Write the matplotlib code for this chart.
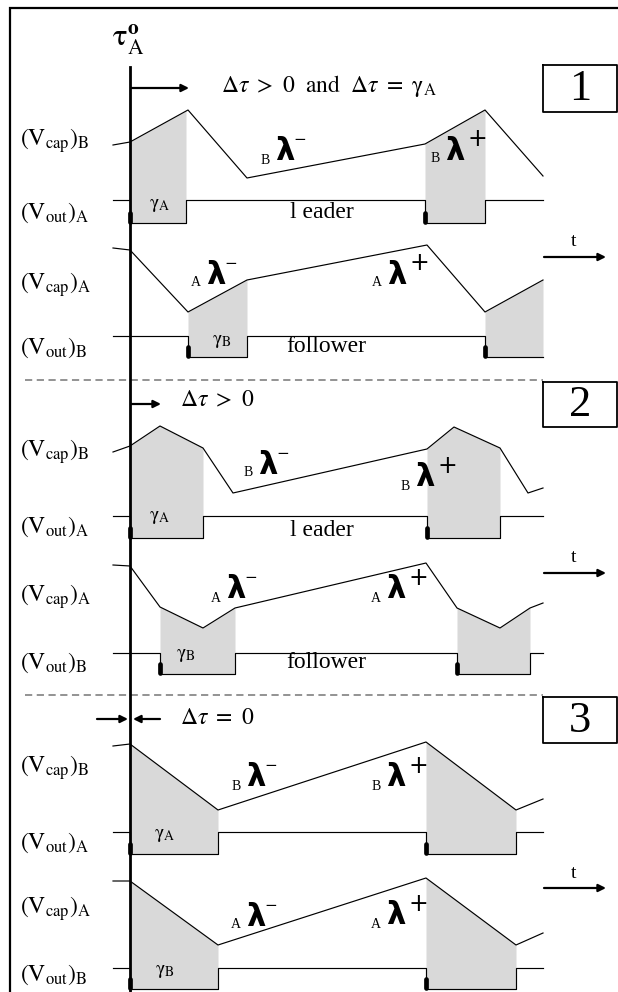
import matplotlib
matplotlib.use("Agg")
import matplotlib.pyplot as plt
import numpy as np

plt.rcParams['mathtext.fontset'] = 'stix'
plt.rcParams['font.family'] = ['Liberation Serif', 'DejaVu Serif']

# ---------------- data (schematic waveform vertices, figure pixel units) ----------------
T_START = 113
T_AXIS = 130
T_END = 543

# Panel 1
P1_VCAPB_T = [113, 130, 188, 247, 425, 485, 543]
P1_VCAPB_V = [145, 142, 110, 178, 144, 110, 176]
P1_VOUTA_LEVELS = [200, 223]
P1_VOUTA_PULSES = [(130, 186), (425, 485)]
P1_VCAPA_T = [113, 130, 188, 247, 427, 485, 543]
P1_VCAPA_V = [248, 250, 312, 280, 245, 312, 280]
P1_VOUTB_LEVELS = [336, 357]
P1_VOUTB_PULSES = [(188, 247), (485, 543)]

# Panel 2
P2_VCAPB_T = [113, 130, 160, 203, 233, 427, 454, 500, 528, 543]
P2_VCAPB_V = [452, 446, 426, 448, 493, 449, 427, 448, 493, 488]
P2_VOUTA_LEVELS = [516, 538]
P2_VOUTA_PULSES = [(130, 203), (427, 500)]
P2_VCAPA_T = [113, 130, 160, 203, 235, 426, 457, 500, 530, 543]
P2_VCAPA_V = [565, 566, 607, 628, 608, 563, 608, 628, 608, 603]
P2_VOUTB_LEVELS = [653, 674]
P2_VOUTB_PULSES = [(160, 235), (457, 530)]

# Panel 3
P3_VCAPB_T = [113, 130, 218, 426, 516, 543]
P3_VCAPB_V = [746, 744, 810, 742, 810, 799]
P3_VOUTA_LEVELS = [832, 854]
P3_VOUTA_PULSES = [(130, 218), (426, 516)]
P3_VCAPA_T = [113, 130, 218, 426, 516, 543]
P3_VCAPA_V = [881, 881, 945, 878, 945, 933]
P3_VOUTB_LEVELS = [968, 989]
P3_VOUTB_PULSES = [(130, 218), (426, 516)]

ROW_LABELS = [r'$\mathrm{(V_{cap})_{B}}$', r'$\mathrm{(V_{out})_{A}}$',
              r'$\mathrm{(V_{cap})_{A}}$', r'$\mathrm{(V_{out})_{B}}$']
PANEL_NUMBERS = ['1', '2', '3']
DELTA_TEXTS = [r'$\Delta\tau\ >\ 0\ \ \mathrm{and}\ \ \Delta\tau\ =\ \mathrm{\gamma_{A}}$',
               r'$\Delta\tau\ >\ 0$', r'$\Delta\tau\ =\ 0$']
ROLE_TEXTS = ['l eader', 'follower']

# ---------------- drawing ----------------
fig = plt.figure(figsize=(6.18, 9.92), dpi=100)
ax = fig.add_axes([0, 0, 1, 1])
ax.set_xlim(0, 618)
ax.set_ylim(992, 0)
ax.axis('off')

SHADE = '#d9d9d9'
LW = 0.85


def draw_vcap(t, v):
    ax.plot(t, v, color='k', lw=LW, zorder=3)


def draw_pulse(levels, pulses):
    hi, lo = levels
    xs, ys = [T_START], [hi]
    for a, b in pulses:
        xs += [a, a, min(b, T_END)]
        ys += [hi, lo, lo]
        if b < T_END:
            xs += [b]
            ys += [hi]
    if xs[-1] < T_END:
        xs.append(T_END)
        ys.append(ys[-1])
    ax.plot(xs, ys, color='k', lw=LW, zorder=3)
    for a, b in pulses:
        ax.plot([a - 0.5, a - 0.5], [lo - 10, lo - 1], color='k', lw=3.4,
                solid_capstyle='round', zorder=4)


def shade(t, v, levels, pulses):
    lo = levels[1]
    for a, b in pulses:
        xx = np.linspace(a, b, 200)
        yy = np.interp(xx, t, v)
        ax.fill_between(xx, yy, lo, color=SHADE, lw=0, zorder=1)


def lam(x, y, sub, sign):
    ax.text(x, y, 'λ', fontsize=22, fontweight='bold', family='DejaVu Sans',
            ha='center', va='center', zorder=5)
    ax.text(x - 20, y + 8, sub, fontsize=10, ha='center', va='center', zorder=5)
    if sign == '-':
        ax.text(x + 15, y - 12, '−', fontsize=11, family='DejaVu Sans',
                ha='center', va='center', zorder=5)
    else:
        ax.text(x + 22, y - 12, '+', fontsize=17, family='DejaVu Sans',
                ha='center', va='center', zorder=5)


def gamma(x, y, sub):
    ax.text(x, y, r'$\mathrm{\gamma_{%s}}$' % sub, fontsize=14,
            ha='center', va='center', zorder=5)


panels = [
    (P1_VCAPB_T, P1_VCAPB_V, P1_VOUTA_LEVELS, P1_VOUTA_PULSES,
     P1_VCAPA_T, P1_VCAPA_V, P1_VOUTB_LEVELS, P1_VOUTB_PULSES),
    (P2_VCAPB_T, P2_VCAPB_V, P2_VOUTA_LEVELS, P2_VOUTA_PULSES,
     P2_VCAPA_T, P2_VCAPA_V, P2_VOUTB_LEVELS, P2_VOUTB_PULSES),
    (P3_VCAPB_T, P3_VCAPB_V, P3_VOUTA_LEVELS, P3_VOUTA_PULSES,
     P3_VCAPA_T, P3_VCAPA_V, P3_VOUTB_LEVELS, P3_VOUTB_PULSES),
]

for (bt, bv, alv, ap, at, av, blv, bp) in panels:
    shade(bt, bv, alv, ap)
    shade(at, av, blv, bp)
    draw_vcap(bt, bv)
    draw_pulse(alv, ap)
    draw_vcap(at, av)
    draw_pulse(blv, bp)

# row labels
label_y = [[141, 213, 285, 348], [452, 527, 597, 663], [768, 843, 909, 975]]
for ys in label_y:
    for lab, y in zip(ROW_LABELS, ys):
        ax.text(20, y, lab, fontsize=17, ha='left', va='center')

# lambda labels
lam(285, 152, 'B', '-'); lam(455, 151, 'B', '+')
lam(216, 275, 'A', '-'); lam(397, 275, 'A', '+')
lam(268, 465, 'B', '-'); lam(425, 478, 'B', '+')
lam(236, 590, 'A', '-'); lam(396, 590, 'A', '+')
lam(256, 778, 'B', '-'); lam(396, 778, 'B', '+')
lam(256, 917, 'A', '-'); lam(396, 916, 'A', '+')

# gamma labels
gamma(160, 206, 'A'); gamma(222, 341, 'B')
gamma(160, 518, 'A'); gamma(186, 656, 'B')
gamma(165, 836, 'A'); gamma(165, 971, 'B')

# leader / follower
ax.text(322, 212, ROLE_TEXTS[0], fontsize=17, ha='center', va='center')
ax.text(326, 346, ROLE_TEXTS[1], fontsize=17, ha='center', va='center')
ax.text(322, 530, ROLE_TEXTS[0], fontsize=17, ha='center', va='center')
ax.text(326, 663, ROLE_TEXTS[1], fontsize=17, ha='center', va='center')

# delta texts
ax.text(221, 86, DELTA_TEXTS[0], fontsize=17, ha='left', va='center')
ax.text(180, 401, DELTA_TEXTS[1], fontsize=17, ha='left', va='center')
ax.text(180, 718, DELTA_TEXTS[2], fontsize=17, ha='left', va='center')

# arrows
arrow_kw = dict(arrowstyle='-|>', lw=1.6, color='k', mutation_scale=11,
                shrinkA=0, shrinkB=0)
ax.annotate('', xy=(189, 88), xytext=(131, 88), arrowprops=arrow_kw)
ax.annotate('', xy=(161, 404), xytext=(131, 404), arrowprops=arrow_kw)
ax.annotate('', xy=(128, 719), xytext=(97, 719), arrowprops=arrow_kw)
ax.annotate('', xy=(133, 719), xytext=(160, 719), arrowprops=arrow_kw)

# time arrows
for ya, yt in [(257, 241), (573, 557), (888, 873)]:
    ax.annotate('', xy=(606, ya), xytext=(544, ya), arrowprops=arrow_kw)
    ax.text(574, yt, 't', fontsize=14, ha='center', va='center')

# panel number boxes
for num, (y0, y1) in zip(PANEL_NUMBERS, [(65, 112), (382, 427), (697, 743)]):
    ax.plot([543, 617, 617, 543, 543], [y0, y0, y1, y1, y0], color='k', lw=1.3)
    ax.text(580, (y0 + y1) / 2 + 1, num, fontsize=32, ha='center', va='center')

# dashed separators
for y in (380, 695):
    ax.plot([25, 543], [y, y], color='#8a8a8a', lw=1.3, ls=(0, (4, 2.5)))

# time origin axis
ax.plot([130, 130], [67, 992], color='k', lw=2.0, zorder=6)
ax.text(128, 40, r'$\mathrm{\tau_{A}^{\mathbf{o}}}$', fontsize=22, ha='center', va='center')

# outer frame
ax.plot([10, 10, 618], [992, 8, 8], color='k', lw=1.6, solid_joinstyle='miter')

fig.savefig('out.png', dpi=100)
